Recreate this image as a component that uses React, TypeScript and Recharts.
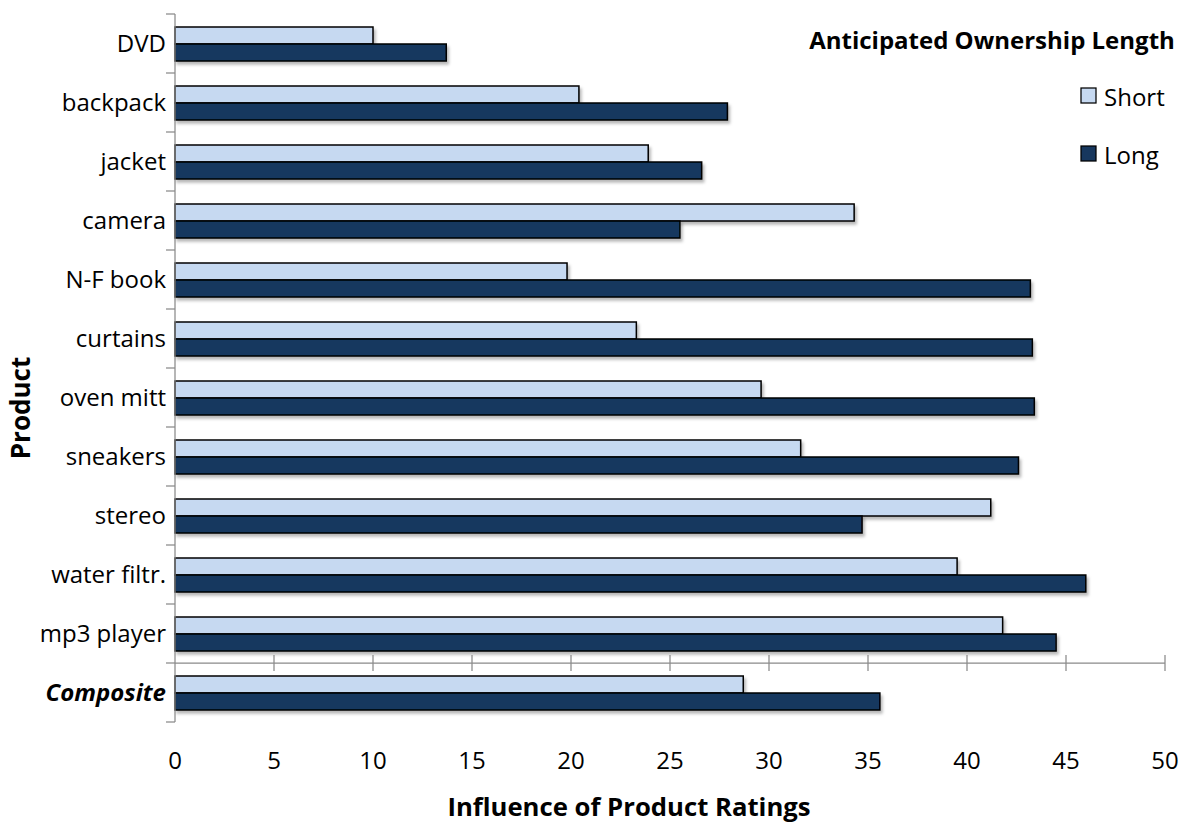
import React from 'react';
import { BarChart, Bar, XAxis, YAxis, ReferenceLine, Legend } from 'recharts';

const products = [
  'DVD',
  'backpack',
  'jacket',
  'camera',
  'N-F book',
  'curtains',
  'oven mitt',
  'sneakers',
  'stereo',
  'water filtr.',
  'mp3 player',
  'Composite',
];
const shortOwnership = [10.0, 20.4, 23.9, 34.3, 19.8, 23.3, 29.6, 31.6, 41.2, 39.5, 41.8, 28.7];
const longOwnership = [13.7, 27.9, 26.6, 25.5, 43.2, 43.3, 43.4, 42.6, 34.7, 46.0, 44.5, 35.6];
const ratingTicks = [0, 5, 10, 15, 20, 25, 30, 35, 40, 45, 50];

const data = products.map((product, i) => ({
  product,
  short: shortOwnership[i],
  long: longOwnership[i],
}));

const WIDTH = 1183;
const HEIGHT = 825;
const PLOT_TOP = 14;
const PLOT_LEFT = 175;
const PLOT_RIGHT = 1165;
const X_AXIS_HEIGHT = 103;
const PLOT_BOTTOM = HEIGHT - X_AXIS_HEIGHT;
const BAND = (PLOT_BOTTOM - PLOT_TOP) / products.length;
// the value axis sits on the boundary above the Composite row
const AXIS_Y = PLOT_TOP + BAND * (products.length - 1);

const FONT = '"Open Sans", "Noto Sans", sans-serif';
const FONT_SIZE = 24;
const AXIS_GREY = '#8a8a8a';
const SHORT_FILL = '#C6D9F1';
const LONG_FILL = '#17375E';

function ProductTick(props: any) {
  const { y, payload, index } = props;
  const isComposite = payload.value === 'Composite';
  return (
    <g>
      <line x1={PLOT_LEFT - 9} x2={PLOT_LEFT} y1={y - BAND / 2} y2={y - BAND / 2} stroke={AXIS_GREY} strokeWidth={1.25} />
      {index === products.length - 1 && (
        <line x1={PLOT_LEFT - 9} x2={PLOT_LEFT} y1={y + BAND / 2} y2={y + BAND / 2} stroke={AXIS_GREY} strokeWidth={1.25} />
      )}
      <text
        x={PLOT_LEFT - 9}
        y={y}
        dy="0.36em"
        textAnchor="end"
        fontFamily={FONT}
        fontSize={FONT_SIZE}
        fontWeight={isComposite ? 700 : 400}
        fontStyle={isComposite ? 'italic' : 'normal'}
        fill="#000"
      >
        {payload.value}
      </text>
    </g>
  );
}

function RatingTick(props: any) {
  const { x, payload } = props;
  return (
    <g>
      {payload.value !== 0 && (
        <line x1={x} x2={x} y1={AXIS_Y - 8} y2={AXIS_Y + 8} stroke={AXIS_GREY} strokeWidth={1.25} />
      )}
      <text x={x} y={760} dy="0.36em" textAnchor="middle" fontFamily={FONT} fontSize={FONT_SIZE} fill="#000">
        {payload.value}
      </text>
    </g>
  );
}

function OwnershipLegend() {
  return (
    <svg width={403} height={180} style={{ overflow: 'visible' }}>
      <text x={212} y={49} textAnchor="middle" fontFamily={FONT} fontSize={24} fontWeight={700} fill="#000">
        Anticipated Ownership Length
      </text>
      <rect x={301} y={88} width={15} height={15} fill={SHORT_FILL} stroke="#000" strokeWidth={1.25} />
      <text x={324} y={106} fontFamily={FONT} fontSize={FONT_SIZE} fill="#000">Short</text>
      <rect x={301} y={146} width={15} height={15} fill={LONG_FILL} stroke="#000" strokeWidth={1.25} />
      <text x={324} y={164} fontFamily={FONT} fontSize={FONT_SIZE} fill="#000">Long</text>
    </svg>
  );
}

export default function App() {
  return (
    <div style={{ width: WIDTH, height: HEIGHT, background: '#fff' }}>
      <style>{'body { margin: 0; }'}</style>
      <BarChart
        width={WIDTH}
        height={HEIGHT}
        data={data}
        layout="vertical"
        barGap={0}
        margin={{ top: PLOT_TOP, right: WIDTH - PLOT_RIGHT, bottom: 0, left: 0 }}
      >
        <defs>
          <filter id="barShadow" x="-5%" y="-30%" width="115%" height="190%">
            <feDropShadow dx="2" dy="3" stdDeviation="1.5" floodColor="#000" floodOpacity="0.28" />
          </filter>
        </defs>
        <XAxis
          type="number"
          domain={[0, 50]}
          ticks={ratingTicks}
          interval={0}
          axisLine={false}
          tickLine={false}
          height={X_AXIS_HEIGHT}
          tick={<RatingTick />}
        />
        <YAxis
          type="category"
          dataKey="product"
          width={PLOT_LEFT}
          interval={0}
          axisLine={{ stroke: AXIS_GREY, strokeWidth: 1.25 }}
          tickLine={false}
          tick={<ProductTick />}
        />
        <ReferenceLine y="Composite" position="start" stroke={AXIS_GREY} strokeWidth={1.25} />
        <Bar
          dataKey="short"
          name="Short"
          fill={SHORT_FILL}
          stroke="#000"
          strokeWidth={1.5}
          barSize={17}
          filter="url(#barShadow)"
          isAnimationActive={false}
        />
        <Bar
          dataKey="long"
          name="Long"
          fill={LONG_FILL}
          stroke="#000"
          strokeWidth={1.5}
          barSize={17}
          filter="url(#barShadow)"
          isAnimationActive={false}
        />
        <Legend
          layout="vertical"
          align="center"
          verticalAlign="middle"
          content={<OwnershipLegend />}
          wrapperStyle={{ left: 780, top: 0, width: 403, height: 180 }}
        />
        <text x={21} y={408} transform="rotate(-90 21 408)" textAnchor="middle" dy="0.36em" fontFamily={FONT} fontSize={26} fontWeight={700} fill="#000">
          Product
        </text>
        <text x={629} y={807} textAnchor="middle" dy="0.36em" fontFamily={FONT} fontSize={25.7} fontWeight={700} fill="#000">
          Influence of Product Ratings
        </text>
      </BarChart>
    </div>
  );
}
